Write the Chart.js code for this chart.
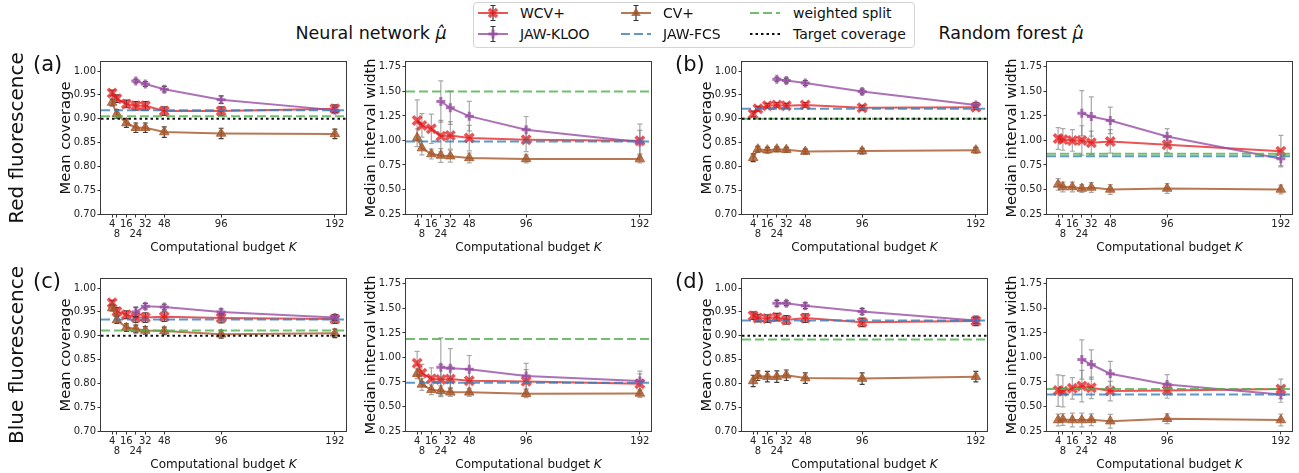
<!DOCTYPE html>
<html>
<head>
<meta charset="utf-8">
<script src="https://cdn.jsdelivr.net/npm/chart.js@4.4.1/dist/chart.umd.min.js"></script>
<style>
html, body { margin: 0; padding: 0; background: #fff; overflow: hidden; }
body { font-family: "DejaVu Sans", sans-serif; color: #111; }
#fig { position: relative; width: 1299px; height: 473px; overflow: hidden; }
#fig canvas { position: absolute; }
.t { position: absolute; white-space: nowrap; line-height: 1; }
.xl { font-size: 12px; transform: translate(-50%, -50%); }
.row { font-size: 20px; transform: translate(-50%, -50%) rotate(-90deg); }
.let { font-size: 21px; transform: translateY(-50%); }
.ttl { font-size: 17.5px; transform: translate(-50%, -50%); }
#legend { position: absolute; left: 473px; top: 2px; width: 442px; height: 46px; box-sizing: border-box;
  border: 1px solid #d4d4d4; border-radius: 4px; background: #fff; }
.lg { font-size: 14px; transform: translateY(-50%); }
.hd { position: absolute; }
</style>
</head>
<body>
<div id="fig"></div>
<script>
// budgets K and tick labels (8 and 24 sit on a second line)
const K = [4, 8, 16, 24, 32, 48, 96, 192];
const K_KLOO = [24, 32, 48, 96, 192];
const K_LABELS = ['4', ['', '8'], '16', ['', '24'], '32', '48', '96', '192'];
const COV_TICKS = [0.70, 0.75, 0.80, 0.85, 0.90, 0.95, 1.00];
const WID_TICKS = [0.25, 0.50, 0.75, 1.00, 1.25, 1.50, 1.75];

// (a) red fluorescence, neural network
const aCovWcv = [0.954, 0.942, 0.931, 0.927, 0.927, 0.916, 0.916, 0.921];
const aCovWcvErr = [0.006, 0.008, 0.008, 0.009, 0.009, 0.009, 0.009, 0.008];
const aCovKloo = [0.979, 0.973, 0.962, 0.940, 0.918];
const aCovKlooErr = [0.004, 0.005, 0.006, 0.008, 0.006];
const aCovCv = [0.934, 0.910, 0.891, 0.881, 0.881, 0.872, 0.869, 0.868];
const aCovCvErr = [0.007, 0.009, 0.009, 0.010, 0.010, 0.011, 0.011, 0.010];
const aCovRef = [0.918, 0.905, 0.90];   // JAW-FCS, weighted split, target

const aWidWcv = [1.204, 1.153, 1.119, 1.044, 1.051, 1.024, 1.007, 0.997];
const aWidWcvErr = [0.21, 0.12, 0.15, 0.16, 0.14, 0.13, 0.12, 0.17];
const aWidKloo = [1.397, 1.333, 1.248, 1.109, 0.983];
const aWidKlooErr = [0.21, 0.17, 0.15, 0.135, 0.12];
const aWidCv = [1.027, 0.922, 0.861, 0.847, 0.840, 0.822, 0.812, 0.810];
const aWidCvErr = [0.09, 0.07, 0.05, 0.07, 0.06, 0.05, 0.04, 0.04];
const aWidRef = [0.99, 1.50];           // JAW-FCS, weighted split

// (b) red fluorescence, random forest
const bCovWcv = [0.910, 0.921, 0.927, 0.929, 0.927, 0.929, 0.923, 0.924];
const bCovWcvErr = [0.006, 0.005, 0.005, 0.005, 0.005, 0.005, 0.005, 0.005];
const bCovKloo = [0.983, 0.980, 0.975, 0.957, 0.929];
const bCovKlooErr = [0.004, 0.005, 0.005, 0.005, 0.005];
const bCovCv = [0.818, 0.836, 0.834, 0.836, 0.835, 0.831, 0.832, 0.834];
const bCovCvErr = [0.008, 0.006, 0.006, 0.005, 0.005, 0.005, 0.006, 0.006];
const bCovRef = [0.921, 0.900, 0.90];

const bWidWcv = [1.02, 1.01, 1.00, 1.00, 0.976, 0.99, 0.956, 0.891];
const bWidWcvErr = [0.11, 0.11, 0.11, 0.15, 0.12, 0.12, 0.08, 0.16];
const bWidKloo = [1.278, 1.244, 1.204, 1.041, 0.813];
const bWidKlooErr = [0.23, 0.20, 0.135, 0.08, 0.07];
const bWidCv = [0.552, 0.525, 0.525, 0.51, 0.52, 0.50, 0.51, 0.50];
const bWidCvErr = [0.06, 0.05, 0.05, 0.04, 0.05, 0.05, 0.05, 0.045];
const bWidRef = [0.840, 0.864];

// (c) blue fluorescence, neural network
const cCovWcv = [0.969, 0.951, 0.944, 0.938, 0.938, 0.940, 0.937, 0.935];
const cCovWcvErr = [0.005, 0.008, 0.008, 0.010, 0.010, 0.010, 0.010, 0.009];
const cCovKloo = [0.950, 0.962, 0.960, 0.950, 0.938];
const cCovKlooErr = [0.010, 0.006, 0.006, 0.006, 0.006];
const cCovCv = [0.958, 0.933, 0.917, 0.914, 0.911, 0.910, 0.903, 0.905];
const cCovCvErr = [0.006, 0.007, 0.008, 0.008, 0.008, 0.008, 0.008, 0.009];
const cCovRef = [0.934, 0.911, 0.90];

const cWidWcv = [0.942, 0.84, 0.783, 0.776, 0.78, 0.762, 0.756, 0.732];
const cWidWcvErr = [0.12, 0.09, 0.11, 0.15, 0.13, 0.12, 0.12, 0.10];
const cWidKloo = [0.90, 0.89, 0.88, 0.81, 0.76];
const cWidKlooErr = [0.30, 0.20, 0.14, 0.13, 0.10];
const cWidCv = [0.834, 0.725, 0.67, 0.66, 0.644, 0.644, 0.63, 0.633];
const cWidCvErr = [0.05, 0.06, 0.05, 0.05, 0.04, 0.04, 0.04, 0.04];
const cWidRef = [0.742, 1.187];

// (d) blue fluorescence, random forest
const dCovWcv = [0.942, 0.937, 0.936, 0.939, 0.933, 0.937, 0.928, 0.931];
const dCovWcvErr = [0.008, 0.008, 0.008, 0.008, 0.009, 0.009, 0.009, 0.010];
const dCovKloo = [0.968, 0.968, 0.963, 0.951, 0.932];
const dCovKlooErr = [0.006, 0.005, 0.006, 0.006, 0.006];
const dCovCv = [0.805, 0.816, 0.814, 0.814, 0.817, 0.811, 0.810, 0.814];
const dCovCvErr = [0.012, 0.010, 0.011, 0.012, 0.011, 0.011, 0.012, 0.011];
const dCovRef = [0.932, 0.892, 0.90];

const dWidWcv = [0.662, 0.655, 0.685, 0.708, 0.69, 0.657, 0.664, 0.678];
const dWidWcvErr = [0.16, 0.16, 0.11, 0.16, 0.11, 0.10, 0.08, 0.10];
const dWidKloo = [0.98, 0.928, 0.834, 0.725, 0.623];
const dWidKlooErr = [0.20, 0.15, 0.125, 0.10, 0.08];
const dWidCv = [0.362, 0.368, 0.362, 0.362, 0.365, 0.35, 0.375, 0.362];
const dWidCvErr = [0.06, 0.06, 0.07, 0.07, 0.06, 0.07, 0.05, 0.06];
const dWidRef = [0.623, 0.678];

// colours (matplotlib Set1, with alpha)
const RED = 'rgba(228,26,28,0.75)';
const PURPLE = 'rgba(152,78,163,0.8)';
const BROWN = 'rgba(166,86,40,0.8)';
const BLUE = 'rgba(55,126,184,0.8)';
const GREEN = 'rgba(77,175,74,0.8)';
const DASH = [9, 4];
const DOT = [2.5, 3];

Chart.defaults.font.family = '"DejaVu Sans", sans-serif';

const fig = document.getElementById('fig');
const COLS = [101, 406, 742, 1047];
const ROWS = [62, 279];
const AW = 245, AH = 152;
const PL = 44, PT = 10, PR = 10, PB = 45;

function addText(cls, html, left, top) {
  const d = document.createElement('div');
  d.className = 't ' + cls;
  d.innerHTML = html;
  d.style.left = left + 'px';
  d.style.top = top + 'px';
  fig.appendChild(d);
  return d;
}

// error bars drawn just under each dataset
function errPlugin(color) {
  return {
    id: 'errbars',
    beforeDatasetDraw(chart, args) {
      const ds = chart.data.datasets[args.index];
      const xs = chart.scales.x, ys = chart.scales.y, ctx = chart.ctx;
      ctx.save();
      ctx.strokeStyle = color;
      ctx.lineWidth = 1.2;
      ds.data.forEach((p, i) => {
        const px = xs.getPixelForValue(p.x);
        const y1 = ys.getPixelForValue(p.y - ds.errs[i]);
        const y2 = ys.getPixelForValue(p.y + ds.errs[i]);
        ctx.beginPath();
        ctx.moveTo(px, y1); ctx.lineTo(px, y2);
        ctx.moveTo(px - 2.5, y1); ctx.lineTo(px + 2.5, y1);
        ctx.moveTo(px - 2.5, y2); ctx.lineTo(px + 2.5, y2);
        ctx.stroke();
      });
      ctx.restore();
    }
  };
}

function refPlugin(lines) {
  return {
    id: 'reflines',
    afterDatasetsDraw(chart) {
      const ys = chart.scales.y, a = chart.chartArea, ctx = chart.ctx;
      lines.forEach(l => {
        const py = ys.getPixelForValue(l.v);
        ctx.save();
        ctx.strokeStyle = l.c; ctx.lineWidth = 2; ctx.setLineDash(l.d);
        ctx.beginPath(); ctx.moveTo(a.left, py); ctx.lineTo(a.right, py); ctx.stroke();
        ctx.restore();
      });
    }
  };
}

const framePlugin = {
  id: 'frame',
  afterDraw(chart) {
    const a = chart.chartArea, ctx = chart.ctx;
    ctx.save();
    ctx.strokeStyle = '#3a3a3a'; ctx.lineWidth = 1;
    ctx.strokeRect(Math.round(a.left) - 0.5, Math.round(a.top) - 0.5, a.right - a.left + 1, a.bottom - a.top + 1);
    ctx.restore();
  }
};

function series(xs, ys, errs, color, style, radius, bw, order) {
  return {
    data: xs.map((k, i) => ({x: k, y: ys[i]})),
    errs: errs,
    borderColor: color, backgroundColor: color, borderWidth: 2,
    pointStyle: style, pointRadius: radius, pointBorderWidth: bw,
    pointBackgroundColor: color, pointBorderColor: color,
    tension: 0, fill: false, order: order
  };
}

function panel(col, row, isCov, wcv, wcvErr, kloo, klooErr, cvp, cvpErr, ref) {
  const left = COLS[col], top = ROWS[row];
  const c = document.createElement('canvas');
  c.width = PL + AW + PR; c.height = PT + AH + PB;
  c.style.left = (left - PL) + 'px';
  c.style.top = (top - PT) + 'px';
  fig.appendChild(c);

  const lines = isCov
    ? [{v: ref[0], c: BLUE, d: DASH}, {v: ref[1], c: GREEN, d: DASH}, {v: ref[2], c: '#111', d: DOT}]
    : [{v: ref[0], c: BLUE, d: DASH}, {v: ref[1], c: GREEN, d: DASH}];
  const yTicks = isCov ? COV_TICKS : WID_TICKS;

  new Chart(c, {
    type: 'line',
    data: {
      datasets: [
        series(K, wcv, wcvErr, RED, 'crossRot', 6, 3.5, 3),
        series(K_KLOO, kloo, klooErr, PURPLE, 'cross', 4.5, 3, 2),
        series(K, cvp, cvpErr, BROWN, 'triangle', 5.5, 1, 1)
      ]
    },
    options: {
      responsive: false, animation: false, devicePixelRatio: 1,
      layout: {padding: {top: PT, right: PR, left: 0, bottom: 0}},
      plugins: {legend: {display: false}, tooltip: {enabled: false}},
      scales: {
        x: {
          type: 'linear', min: -5.4, max: 201.4,
          afterBuildTicks: s => { s.ticks = K.map(v => ({value: v})); },
          afterFit: s => { s.height = PB; },
          border: {display: false},
          grid: {drawOnChartArea: false, drawTicks: true, tickLength: 3.5, tickColor: '#333', tickWidth: 1},
          ticks: {autoSkip: false, maxRotation: 0, minRotation: 0, padding: 2, color: '#222',
            font: {size: 10, lineHeight: 1}, callback: (v, i) => K_LABELS[i]}
        },
        y: {
          min: isCov ? 0.70 : 0.25, max: isCov ? 1.019 : 1.80,
          afterBuildTicks: s => { s.ticks = yTicks.map(v => ({value: v})); },
          afterFit: s => { s.width = PL; },
          border: {display: false},
          grid: {drawOnChartArea: false, drawTicks: true, tickLength: 3.5, tickColor: '#333', tickWidth: 1},
          ticks: {autoSkip: false, padding: 1.5, color: '#222', font: {size: 10}, callback: v => v.toFixed(2)},
          title: {display: true, text: isCov ? 'Mean coverage' : 'Median interval width',
            color: '#111', font: {size: 14.7}, padding: {top: 0, bottom: 0}}
        }
      }
    },
    plugins: [errPlugin(isCov ? 'rgba(30,30,30,0.85)' : 'rgba(110,110,110,0.6)'), refPlugin(lines), framePlugin]
  });

  addText('xl', 'Computational budget <i>K</i>', left + AW / 2, top + AH + 33);
}

panel(0, 0, true, aCovWcv, aCovWcvErr, aCovKloo, aCovKlooErr, aCovCv, aCovCvErr, aCovRef);
panel(1, 0, false, aWidWcv, aWidWcvErr, aWidKloo, aWidKlooErr, aWidCv, aWidCvErr, aWidRef);
panel(2, 0, true, bCovWcv, bCovWcvErr, bCovKloo, bCovKlooErr, bCovCv, bCovCvErr, bCovRef);
panel(3, 0, false, bWidWcv, bWidWcvErr, bWidKloo, bWidKlooErr, bWidCv, bWidCvErr, bWidRef);
panel(0, 1, true, cCovWcv, cCovWcvErr, cCovKloo, cCovKlooErr, cCovCv, cCovCvErr, cCovRef);
panel(1, 1, false, cWidWcv, cWidWcvErr, cWidKloo, cWidKlooErr, cWidCv, cWidCvErr, cWidRef);
panel(2, 1, true, dCovWcv, dCovWcvErr, dCovKloo, dCovKlooErr, dCovCv, dCovCvErr, dCovRef);
panel(3, 1, false, dWidWcv, dWidWcvErr, dWidKloo, dWidKlooErr, dWidCv, dWidCvErr, dWidRef);

// panel letters, row labels, titles
addText('let', '(a)', COLS[0] - 68, ROWS[0] + 2);
addText('let', '(b)', COLS[2] - 67, ROWS[0] + 2);
addText('let', '(c)', COLS[0] - 68, ROWS[1] + 2);
addText('let', '(d)', COLS[2] - 67, ROWS[1] + 2);
addText('row', 'Red fluorescence', 16, ROWS[0] + AH / 2);
addText('row', 'Blue fluorescence', 16, ROWS[1] + AH / 2);
addText('ttl', 'Neural network <i>μ̂</i>', 371, 34);
addText('ttl', 'Random forest <i>μ̂</i>', 1011, 34);

// shared legend
const lg = document.createElement('div');
lg.id = 'legend';
fig.appendChild(lg);

function handle(x, y, svg) {
  const d = document.createElement('div');
  d.className = 'hd';
  d.style.left = x + 'px'; d.style.top = (y - 10) + 'px';
  d.innerHTML = '<svg width="30" height="20" xmlns="http://www.w3.org/2000/svg">' + svg + '</svg>';
  fig.appendChild(d);
}
const bar = '<path d="M15 2.5V17.5M12.5 2.5H17.5M12.5 17.5H17.5" stroke="#333" stroke-width="1.2" fill="none"/>';
handle(478, 13, '<line x1="0" y1="10" x2="30" y2="10" stroke="' + RED + '" stroke-width="2"/>' + bar +
  '<path d="M11 6L19 14M19 6L11 14" stroke="' + RED + '" stroke-width="3.5"/>');
handle(478, 34, '<line x1="0" y1="10" x2="30" y2="10" stroke="' + PURPLE + '" stroke-width="2"/>' + bar +
  '<path d="M15 5.5V14.5M10.5 10H19.5" stroke="' + PURPLE + '" stroke-width="3"/>');
handle(621, 13, '<line x1="0" y1="10" x2="30" y2="10" stroke="' + BROWN + '" stroke-width="2"/>' + bar +
  '<polygon points="15,4.5 19.8,13 10.2,13" fill="' + BROWN + '"/>');
handle(621, 34, '<line x1="0" y1="10" x2="30" y2="10" stroke="' + BLUE + '" stroke-width="2" stroke-dasharray="9 4"/>');
handle(750, 13, '<line x1="0" y1="10" x2="30" y2="10" stroke="' + GREEN + '" stroke-width="2" stroke-dasharray="9 4"/>');
handle(750, 34, '<line x1="0" y1="10" x2="30" y2="10" stroke="#111" stroke-width="2" stroke-dasharray="2.5 3"/>');

addText('lg', 'WCV+', 520, 13);
addText('lg', 'JAW-KLOO', 520, 34);
addText('lg', 'CV+', 663, 13);
addText('lg', 'JAW-FCS', 663, 34);
addText('lg', 'weighted split', 793, 13);
addText('lg', 'Target coverage', 793, 34);
</script>
</body>
</html>
